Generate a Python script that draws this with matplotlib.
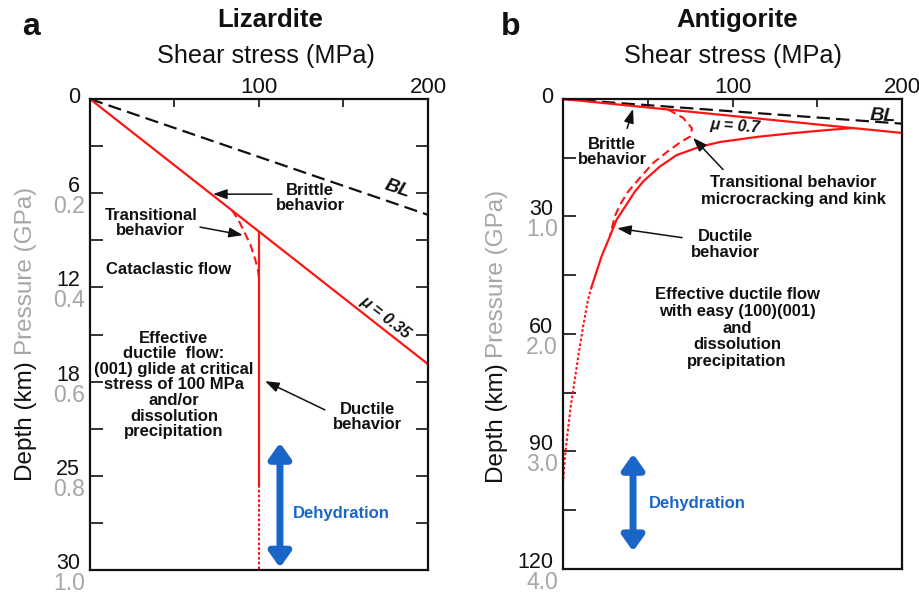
import matplotlib
matplotlib.use("Agg")
import numpy as np
import matplotlib.pyplot as plt
from matplotlib.transforms import offset_copy

plt.rcParams["font.family"] = ["Liberation Sans", "DejaVu Sans"]

RED = "#ff1414"
BLUE = "#1a66c8"
GREY = "#a6a6a6"
INK = "#111111"

# shear stress axis (both panels)
stress_ticks = [0, 50, 100, 150, 200]
stress_ticklabels = ["", "", "100", "", "200"]

# ---- panel a : lizardite (pressure in GPa) ----
liz_press_ticks = [0, 0.2, 0.4, 0.6, 0.8, 1.0]
liz_depth_labels = ["0", "6", "12", "18", "25", "30"]
liz_press_labels = ["", "0.2", "0.4", "0.6", "0.8", "1.0"]

liz_bl_stress = [0, 200]
liz_bl_press = [0, 0.246]
liz_mu_stress = [0, 200]
liz_mu_press = [0, 0.563]
liz_duct_stress = [100, 100]
liz_duct_press = [0.282, 0.82]
liz_duct_dot_stress = [100, 100]
liz_duct_dot_press = [0.82, 1.0]
liz_trans_stress = [84, 88, 91, 95, 97.7, 99.4, 100]
liz_trans_press = [0.236, 0.258, 0.28, 0.31, 0.34, 0.363, 0.38]

# ---- panel b : antigorite ----
ant_press_ticks = [0, 1, 2, 3, 4]
ant_depth_labels = ["0", "30", "60", "90", "120"]
ant_press_labels = ["", "1.0", "2.0", "3.0", "4.0"]

ant_bl_stress = [0, 200]
ant_bl_press = [0, 0.21]
ant_mu_stress = [0, 200]
ant_mu_press = [0, 0.289]
ant_duct_stress = [171, 156, 136, 116, 92.6, 80.8, 67.1, 57.0, 47.4, 42.3, 31.5, 27.6, 22.7, 16.8]
ant_duct_press = [0.247, 0.264, 0.29, 0.32, 0.366, 0.406, 0.477, 0.576, 0.70, 0.79, 1.03, 1.17, 1.34, 1.6]
ant_duct_dot_stress = [16.8, 14.7, 11.8, 9.3, 6.9, 4.5, 2.6, 1.0, 0.0]
ant_duct_dot_press = [1.6, 1.71, 1.94, 2.16, 2.39, 2.62, 2.85, 3.07, 3.27]
ant_trans_stress = [62, 70.8, 76.1, 74.9, 69.0, 61.4, 53.1, 45.4, 38.3, 33.6, 30.5, 27.6]
ant_trans_press = [0.09, 0.16, 0.25, 0.32, 0.37, 0.45, 0.545, 0.67, 0.79, 0.90, 1.0, 1.17]


def setup_axes(ax, p_max, p_step, press_ticks, depth_labels, press_labels, right_ticks):
    ax.set_xlim(0, 200)
    ax.set_ylim(p_max, 0)
    ax.xaxis.tick_top()
    ax.set_xticks(stress_ticks)
    ax.set_xticklabels(stress_ticklabels)
    ax.tick_params(axis="x", direction="in", length=6, width=1.2, pad=1,
                   labelsize=16, colors=INK, top=True, bottom=False)
    ax.set_yticks(np.arange(0, p_max + 1e-9, p_step))
    ax.set_yticklabels([])
    ax.tick_params(axis="y", direction="in", length=9, width=1.2,
                   left=True, right=right_ticks, colors=INK)
    for s in ax.spines.values():
        s.set_linewidth(1.6)
        s.set_color(INK)

    tr = ax.get_yaxis_transform()
    tr_depth = offset_copy(tr, fig=ax.figure, x=-10, y=1, units="dots")
    tr_press = offset_copy(tr, fig=ax.figure, x=-5, y=-2, units="dots")
    for p, d, g in zip(press_ticks, depth_labels, press_labels):
        if p == 0:
            ax.text(0, p, d, transform=tr_depth, ha="right", va="center",
                    fontsize=15.5, color=INK)
            continue
        ax.text(0, p, d, transform=tr_depth, ha="right", va="baseline",
                fontsize=15.5, color=INK)
        ax.text(0, p, g, transform=tr_press, ha="right", va="top",
                fontsize=16.5, color=GREY)


def note(ax, text, x, y, size=12, spacing=0.95):
    ax.text(x, y, text, ha="center", va="center", fontsize=size,
            fontweight="bold", color=INK, linespacing=spacing)


def pointer(ax, tail, head):
    ax.annotate("", xy=head, xytext=tail,
                arrowprops=dict(arrowstyle="-|>,head_length=0.7,head_width=0.25",
                                color=INK, lw=1.1, mutation_scale=12,
                                shrinkA=0, shrinkB=0))


def dehydration(ax, x, p_top, p_bot, tx, ty):
    ax.annotate("", xy=(x, p_bot), xytext=(x, p_top), annotation_clip=False,
                arrowprops=dict(arrowstyle="<|-|>,head_length=0.45,head_width=0.32",
                                color=BLUE, lw=5, mutation_scale=20,
                                shrinkA=0, shrinkB=0))
    ax.text(tx, ty, "Dehydration", ha="center", va="center", fontsize=12,
            fontweight="bold", color=BLUE)


def titles(ax, letter, xletter, name, xname):
    ax.text(xletter, 1.136, letter, transform=ax.transAxes, ha="center",
            va="baseline", fontsize=23, fontweight="bold", color=INK)
    ax.text(xname, 1.153, name, transform=ax.transAxes, ha="center",
            va="baseline", fontsize=18.5, fontweight="bold", color=INK)
    ax.text(xname - 0.012, 1.077, "Shear stress (MPa)", transform=ax.transAxes,
            ha="center", va="baseline", fontsize=18.2, color=INK)


def ylabel(ax, x, y_depth):
    depth = ax.text(x, y_depth, "Depth (km)", transform=ax.transAxes, rotation=90,
                    ha="center", va="bottom", fontsize=17.5, color=INK)
    ax.annotate("Pressure (GPa)", xy=(0.5, 1), xycoords=depth,
                xytext=(0, 4), textcoords="offset points", rotation=90,
                ha="center", va="bottom", fontsize=17.5, color=GREY)


fig = plt.figure(figsize=(9.2, 5.96), dpi=100)
ax_a = fig.add_axes([0.0978, 0.0436, 0.3674, 0.7903])
ax_b = fig.add_axes([0.612, 0.0453, 0.3685, 0.7886])

# ---------------- panel a ----------------
setup_axes(ax_a, 1.0, 0.1, liz_press_ticks, liz_depth_labels, liz_press_labels, True)
ax_a.plot(liz_bl_stress, liz_bl_press, color=INK, lw=1.6, dashes=(6, 2.8))
ax_a.plot(liz_mu_stress, liz_mu_press, color=RED, lw=1.6)
ax_a.plot(liz_duct_stress, liz_duct_press, color=RED, lw=1.6)
ax_a.plot(liz_duct_dot_stress, liz_duct_dot_press, color=RED, lw=1.5, dashes=(1.3, 1))
ax_a.plot(liz_trans_stress, liz_trans_press, color=RED, lw=1.5, dashes=(4, 2.2))

note(ax_a, "Brittle\nbehavior", 130.2, 0.21)
pointer(ax_a, (107.7, 0.202), (72.8, 0.202))
note(ax_a, "Transitional\nbehavior", 36.1, 0.263)
pointer(ax_a, (65.1, 0.272), (90.5, 0.289))
note(ax_a, "Cataclastic flow", 46.7, 0.363)
note(ax_a, "Effective\nductile  flow:\n(001) glide at critical\nstress of 100 MPa\n"
     "and/or\ndissolution\nprecipitation", 49.7, 0.607, spacing=1.05)
note(ax_a, "Ductile\nbehavior", 164.5, 0.675)
pointer(ax_a, (139, 0.66), (103.6, 0.599))
ax_a.text(174.6, 0.463, "\u03bc = 0.35", rotation=-38, ha="center", va="center",
          fontsize=11.5, fontweight="bold", style="italic", color=INK)
ax_a.text(181.7, 0.19, "BL", rotation=-19, ha="center", va="center",
          fontsize=14, fontweight="bold", style="italic", color=INK)
dehydration(ax_a, 112.4, 0.73, 0.995, 149, 0.879)
titles(ax_a, "a", -0.175, "Lizardite", 0.533)
ylabel(ax_a, -0.19, 0.19)

# ---------------- panel b ----------------
setup_axes(ax_b, 4.0, 0.5, ant_press_ticks, ant_depth_labels, ant_press_labels, False)
ax_b.plot(ant_bl_stress, ant_bl_press, color=INK, lw=1.6, dashes=(6, 2.8))
ax_b.plot(ant_mu_stress, ant_mu_press, color=RED, lw=1.6)
ax_b.plot(ant_duct_stress, ant_duct_press, color=RED, lw=1.6)
ax_b.plot(ant_duct_dot_stress, ant_duct_dot_press, color=RED, lw=1.5, dashes=(1.3, 1))
ax_b.plot(ant_trans_stress, ant_trans_press, color=RED, lw=1.5, dashes=(4, 2.2))

note(ax_b, "Brittle\nbehavior", 28.9, 0.45)
pointer(ax_b, (37.8, 0.25), (41.3, 0.085))
ax_b.text(101.5, 0.23, "\u03bc = 0.7", rotation=-4, ha="center", va="center",
          fontsize=11.5, fontweight="bold", style="italic", color=INK)
ax_b.text(188.8, 0.15, "BL", rotation=-3, ha="center", va="center",
          fontsize=14, fontweight="bold", style="italic", color=INK)
note(ax_b, "Transitional behavior\nmicrocracking and kink", 135.7, 0.78, spacing=1.15)
pointer(ax_b, (94.4, 0.6), (76.7, 0.33))
note(ax_b, "Ductile\nbehavior", 95.6, 1.24, spacing=1.05)
pointer(ax_b, (70.2, 1.18), (31.9, 1.10))
note(ax_b, "Effective ductile flow\nwith easy (100)(001)\nand\ndissolution\nprecipitation",
     102.7, 1.95, spacing=1.15)
dehydration(ax_b, 41.3, 3.02, 3.85, 79, 3.44)
titles(ax_b, "b", -0.153, "Antigorite", 0.513)
ylabel(ax_b, -0.195, 0.183)

fig.savefig("out.png", dpi=100)
